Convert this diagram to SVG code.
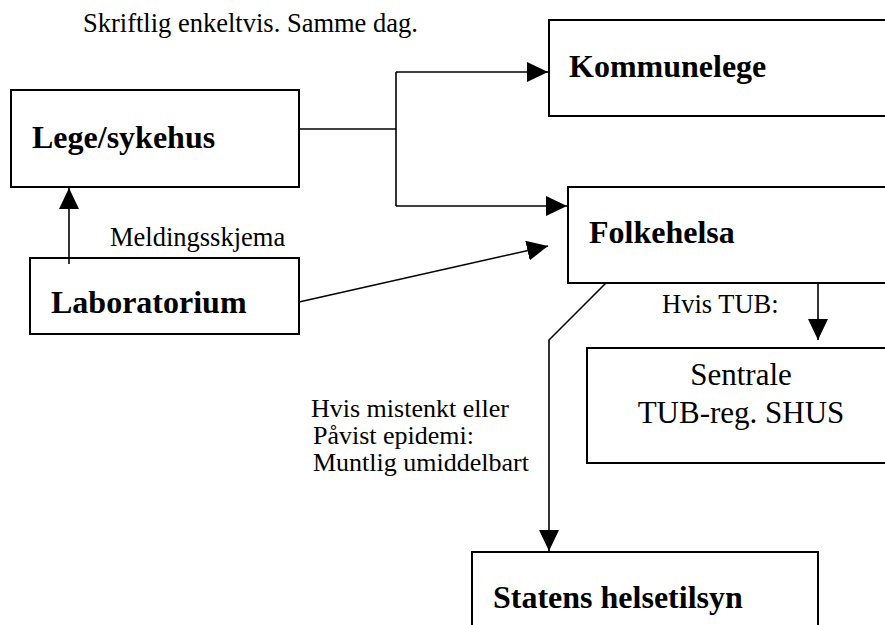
<svg xmlns="http://www.w3.org/2000/svg" width="885" height="625" viewBox="0 0 885 625">
<style>
.box{fill:#fff;stroke:#000;stroke-width:2}
.ln{fill:none;stroke:#000;stroke-width:1.6}
.b{font-family:"Liberation Serif","Times New Roman",serif;font-weight:bold;font-size:32px;fill:#000}
.t{font-family:"Liberation Serif","Times New Roman",serif;font-size:26.5px;fill:#000}
.s{font-family:"Liberation Serif","Times New Roman",serif;font-size:26px;fill:#000}
.m{font-family:"Liberation Serif","Times New Roman",serif;font-size:31px;fill:#000}
</style>
<defs>
<marker id="ah" markerUnits="userSpaceOnUse" markerWidth="21" markerHeight="20" refX="21" refY="10" orient="auto">
<path d="M0,0 L21,10 L0,20 Z" fill="#000"/>
</marker>
</defs>
<rect width="885" height="625" fill="#fff"/>
<text class="t" x="83" y="31.5">Skriftlig enkeltvis. Samme dag.</text>
<g id="lege">
<rect class="box" x="11" y="90" width="288" height="97"/>
<text class="b" x="32" y="148">Lege/sykehus</text>
</g>
<g id="laboratorium">
<rect class="box" x="30" y="258" width="269" height="76"/>
<text class="b" x="51" y="313">Laboratorium</text>
</g>
<g id="kommunelege">
<rect class="box" x="549" y="20" width="345" height="96"/>
<text class="b" x="569" y="77">Kommunelege</text>
</g>
<g id="folkehelsa">
<rect class="box" x="568" y="187" width="326" height="96"/>
<text class="b" x="589" y="243">Folkehelsa</text>
</g>
<g id="sentrale">
<rect class="box" x="587" y="348" width="307" height="115"/>
<text class="m" text-anchor="middle"><tspan x="741" y="385">Sentrale</tspan><tspan x="741" y="423">TUB-reg. SHUS</tspan></text>
</g>
<g id="statens">
<rect class="box" x="472" y="552" width="346" height="90"/>
<text class="b" x="493" y="608">Statens helsetilsyn</text>
</g>
<g id="connectors">
<line class="ln" x1="69" y1="264" x2="69" y2="188" marker-end="url(#ah)"/>
<polyline class="ln" points="299,129 396,129"/>
<polyline class="ln" points="396,72 396,206"/>
<line class="ln" x1="396" y1="72" x2="548" y2="72" marker-end="url(#ah)"/>
<line class="ln" x1="396" y1="206" x2="567" y2="206" marker-end="url(#ah)"/>
<line class="ln" x1="299" y1="302" x2="548" y2="246" marker-end="url(#ah)"/>
<line class="ln" x1="818" y1="283" x2="818" y2="340" marker-end="url(#ah)"/>
<polyline class="ln" points="606,283 549,340 549,551" marker-end="url(#ah)"/>
</g>
<g id="labels">
<text class="t" x="110" y="246">Meldingsskjema</text>
<text class="t" x="662" y="313">Hvis TUB:</text>
<text class="s"><tspan x="311" y="417">Hvis mistenkt eller</tspan><tspan x="313" y="444">Påvist epidemi:</tspan><tspan x="313" y="471">Muntlig umiddelbart</tspan></text>
</g>
</svg>
